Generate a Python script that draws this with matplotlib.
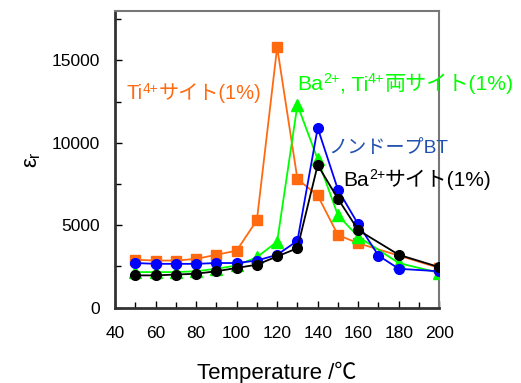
import matplotlib
matplotlib.use('Agg')
import matplotlib.pyplot as plt
from matplotlib.ticker import MultipleLocator

plt.rcParams['font.family'] = ['Liberation Sans', 'Noto Sans CJK JP', 'DejaVu Sans']
plt.rcParams['mathtext.fontset'] = 'custom'
plt.rcParams['mathtext.rm'] = 'Liberation Sans'
plt.rcParams['mathtext.it'] = 'Liberation Sans'

# Ti4+ site (1%)
t_ti = [50, 60, 70, 80, 90, 100, 110, 120, 130, 140, 150, 160, 200]
e_ti = [2900, 2850, 2850, 2950, 3200, 3450, 5300, 15800, 7800, 6800, 4400, 3900, 2400]

# Ba2+, Ti4+ both sites (1%)
t_both = [50, 60, 70, 80, 90, 100, 110, 120, 130, 140, 150, 160, 180, 200]
e_both = [2150, 2150, 2150, 2200, 2350, 2550, 3050, 4000, 12300, 9000, 5600, 4300, 2700, 2100]

# undoped BT
t_und = [50, 60, 70, 80, 90, 100, 110, 120, 130, 140, 150, 160, 170, 180, 200]
e_und = [2700, 2650, 2650, 2650, 2700, 2700, 2850, 3200, 4050, 10900, 7150, 5050, 3150, 2350, 2200]

# Ba2+ site (1%)
t_ba = [50, 60, 70, 80, 90, 100, 110, 120, 130, 140, 150, 160, 180, 200]
e_ba = [1950, 1950, 2000, 2050, 2200, 2400, 2600, 3100, 3600, 8650, 6600, 4700, 3200, 2450]

orange = '#ff6a10'
green = '#00ff00'
blue = '#0000ff'

fig = plt.figure(figsize=(5.21, 3.83), dpi=100)
ax = fig.add_axes([115/521, 1-307.5/383, (439.3-115)/521, (307.5-11)/383])

ax.plot(t_ti, e_ti, color=orange, lw=1.3, marker='s', ms=7, zorder=2)
ax.plot(t_both, e_both, color=green, lw=1.3, marker='^', ms=8, zorder=3)
ax.plot(t_und, e_und, color=blue, lw=1.3, marker='o', ms=7, zorder=4)
ax.plot(t_ba, e_ba, color='black', lw=1.3, marker='o', ms=7, zorder=5)


# label made of pieces, superscripts raised and smaller
def rich(x, y, pieces, color, size=14.5):
    prev = None
    for s, sup in pieces:
        fs = size * 0.68 if sup else size
        dy = size * 0.32 if sup else 0
        if prev is None:
            prev = ax.annotate(s, xy=(x, y), xycoords='data', xytext=(0, dy),
                               textcoords='offset points', color=color, fontsize=fs,
                               ha='left', va='baseline')
        else:
            prev = ax.annotate(s, xy=(1, y), xycoords=(prev, 'data'), xytext=(0, dy),
                               textcoords='offset points', color=color, fontsize=fs,
                               ha='left', va='baseline')


rich(45.9, 12650, [('Ti', 0), ('4+', 1), ('サイト(1%)', 0)], orange)
rich(129.9, 13200, [('Ba', 0), ('2+', 1), (', Ti', 0), ('4+', 1), ('両サイト(1%)', 0)], green, size=15.2)
rich(145.1, 9360, [('ノンドープBT', 0)], '#2050b0', size=13.8)
rich(152.6, 7375, [('Ba', 0), ('2+', 1), ('サイト(1%)', 0)], 'black', size=15)

ax.set_xlim(40, 200)
ax.set_ylim(0, 18000)
ax.xaxis.set_major_locator(MultipleLocator(20))
ax.xaxis.set_minor_locator(MultipleLocator(10))
ax.yaxis.set_major_locator(MultipleLocator(5000))
ax.yaxis.set_minor_locator(MultipleLocator(2500))
ax.tick_params(which='both', direction='in', labelsize=12.5)
ax.tick_params(axis='x', pad=13)
ax.tick_params(axis='y', pad=11)
ax.tick_params(which='major', length=5, width=1)
ax.tick_params(which='minor', length=4, width=1)

for s in ['left', 'bottom']:
    ax.spines[s].set_linewidth(2)
    ax.spines[s].set_color('#333333')
for s in ['top', 'right']:
    ax.spines[s].set_linewidth(1.5)
    ax.spines[s].set_color('#777777')

ax.set_xlabel('Temperature /℃', fontsize=16, labelpad=15)
ax.set_ylabel(r'$\epsilon_r$', fontsize=16, labelpad=6)

fig.savefig('out.png', dpi=100)
